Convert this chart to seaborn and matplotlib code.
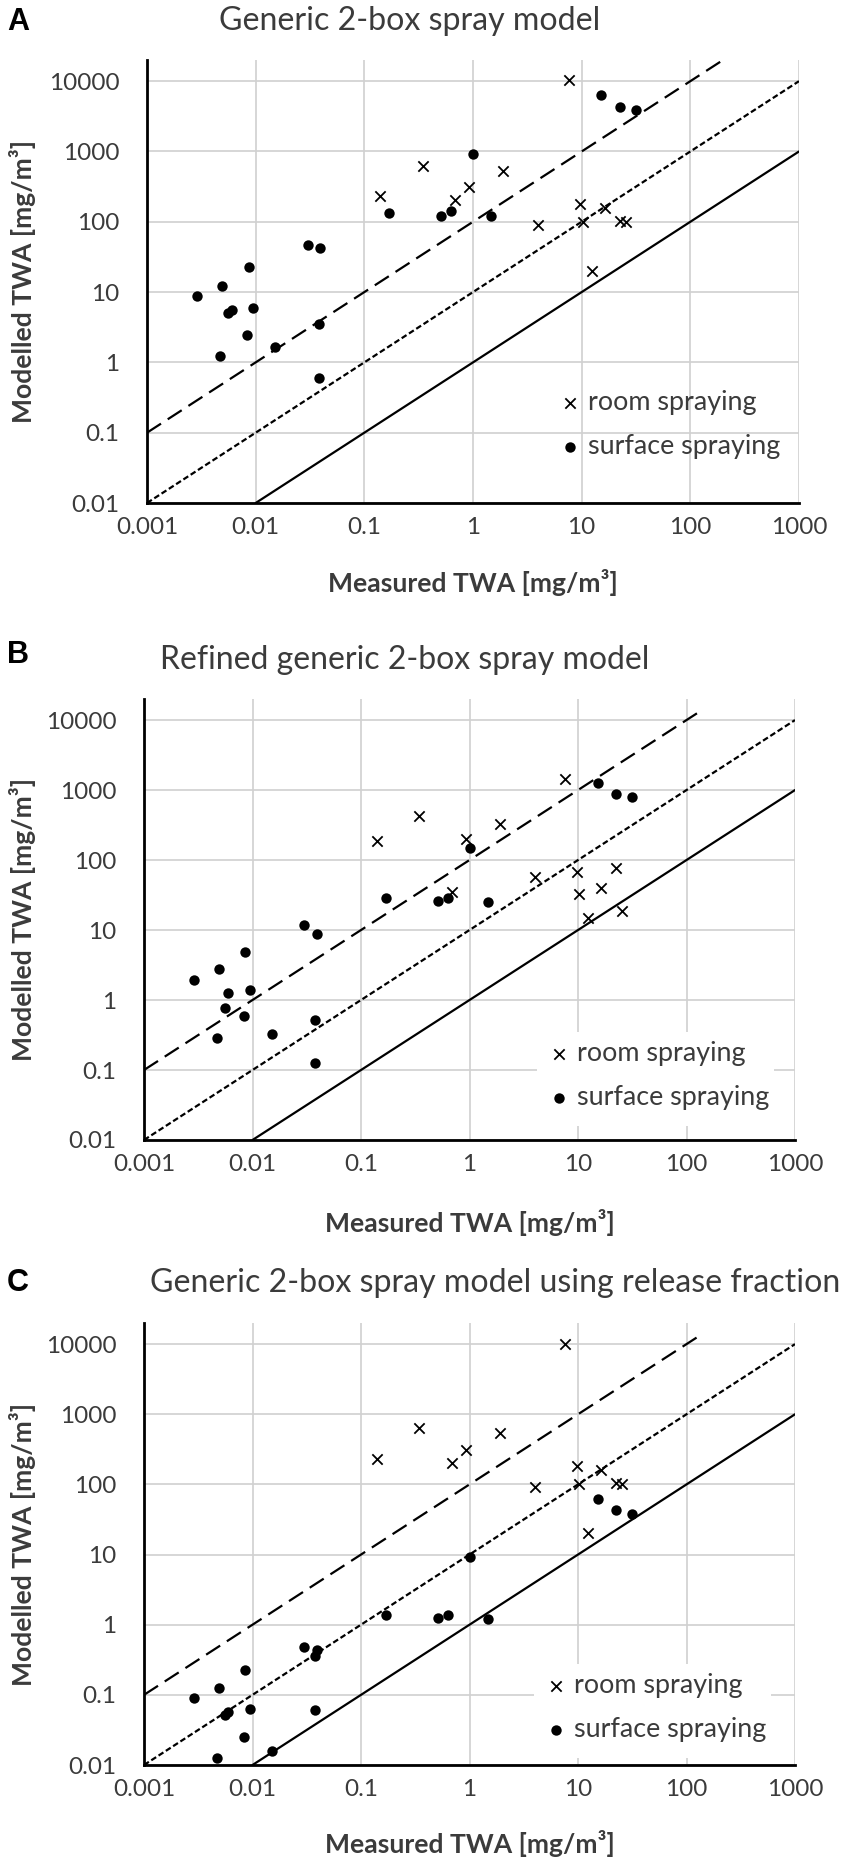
import matplotlib
matplotlib.use('Agg')
import matplotlib.pyplot as plt
from matplotlib.patches import Rectangle
import seaborn as sns

# Measured TWA [mg/m3] (same for all three panels)
room_measured = [7.6, 0.14, 0.345, 0.69, 0.92, 1.9, 4.0, 9.7, 10.2, 16.3, 22.5, 25.5, 12.4]
surface_measured = [15.2, 22.5, 31.5, 1.0, 0.17, 0.51, 0.63, 1.47, 0.030, 0.039, 0.0086,
                    0.0049, 0.0029, 0.0056, 0.006, 0.0095, 0.0083, 0.038, 0.0152, 0.0047, 0.038]

# Modelled TWA [mg/m3]
room_modelled_a = [10400, 230, 612, 207, 314, 526, 90, 178, 100, 155, 102, 99, 19.7]
surface_modelled_a = [6280, 4300, 3850, 916, 135, 122, 142, 119, 47, 42.5, 22.4,
                      12.1, 8.8, 5.0, 5.6, 6.0, 2.47, 3.47, 1.63, 1.25, 0.60]

room_modelled_b = [1459, 188, 430, 35.2, 202, 326, 56.8, 68.6, 33, 40.4, 75.8, 18.8, 15.0]
surface_modelled_b = [1270, 882, 787, 151, 28.8, 26, 28.8, 25.4, 11.8, 8.9, 4.88,
                      2.77, 1.95, 0.77, 1.25, 1.37, 0.59, 0.52, 0.33, 0.288, 0.124]

room_modelled_c = [10000, 228, 628, 205, 314, 549, 91, 182, 100, 159, 104, 100, 20.3]
surface_modelled_c = [62.8, 42.7, 38.4, 9.36, 1.39, 1.24, 1.39, 1.2, 0.481, 0.432, 0.228,
                      0.125, 0.091, 0.052, 0.0564, 0.062, 0.025, 0.354, 0.0157, 0.0126, 0.061]

titles = ['Generic 2-box spray model',
          'Refined generic 2-box spray model',
          'Generic 2-box spray model using release fraction']
letters = ['A', 'B', 'C']
xlabel = 'Measured TWA [mg/m³]'
ylabel = 'Modelled TWA [mg/m³]'

x_ticks = [0.001, 0.01, 0.1, 1, 10, 100, 1000]
x_ticklabels = ['0.001', '0.01', '0.1', '1', '10', '100', '1000']
y_ticks = [0.01, 0.1, 1, 10, 100, 1000, 10000]
y_ticklabels = ['0.01', '0.1', '1', '10', '100', '1000', '10000']

# reference lines y = factor * x
ref_factor = [1, 10, 100]
ref_start = [0.01, 0.001, 0.001]
ref_end_dashed = [190, 140, 140]

room = [room_modelled_a, room_modelled_b, room_modelled_c]
surface = [surface_modelled_a, surface_modelled_b, surface_modelled_c]

sns.set_style('white')
plt.rcParams['font.family'] = ['Lato', 'DejaVu Sans']

W, H = 851, 1867
fig = plt.figure(figsize=(W / 100, H / 100), dpi=100)
renderer = fig.canvas.get_renderer()


def fit_size(text, target_px, weight='normal'):
    # font size (pt) that makes the text about target_px wide
    t = fig.text(0, 0, text, fontsize=10, fontweight=weight)
    w = t.get_window_extent(renderer).width
    t.remove()
    return 10 * target_px / w


tick_fs = fit_size('10000', 70)
legend_fs = fit_size('surface spraying', 192)
label_fs = fit_size(xlabel, 290, 'bold')
title_fs = [fit_size(titles[0], 382), fit_size(titles[1], 491), fit_size(titles[2], 690)]

# axes boxes in pixels: left, right, top, bottom
boxes = [(147, 799, 60, 503), (144, 795, 699, 1140), (144, 795, 1323, 1765)]
title_pos = [(410, 21), (405, 660), (495, 1283)]
letter_pos = [(18, 22), (18, 655), (18, 1283)]
xlabel_y = [583, 1222, 1843]
legend_corner = [(548, 381), (537, 1032), (534, 1664)]   # top-left of legend box, px
legend_box = [None, (237, 94), (237, 94)]                 # white background size, px

txt = '#3b3b3b'
grid_c = '#d0d0d0'

for i in range(3):
    l, r, t, b = boxes[i]
    aw, ah = r - l, b - t
    ax = fig.add_axes([l / W, 1 - b / H, aw / W, ah / H])
    ax.set_xscale('log')
    ax.set_yscale('log')
    ax.set_xlim(0.001, 1000)
    ax.set_ylim(0.01, 20000)

    ends = [1000, 1000, ref_end_dashed[i]]
    styles = ['-', (0, (2.6, 1.3)), (0, (7.5, 3.6))]
    for f, s, e, ls in zip(ref_factor, ref_start, ends, styles):
        ax.plot([s, e], [f * s, f * e], color='black', lw=1.6, linestyle=ls, zorder=2)

    sns.scatterplot(x=room_measured, y=room[i], marker='x', color='black', s=55,
                    linewidth=1.3, label='room spraying', ax=ax, zorder=3)
    sns.scatterplot(x=surface_measured, y=surface[i], marker='o', color='black', s=56,
                    edgecolor='black', linewidth=0, label='surface spraying', ax=ax, zorder=3)

    ax.set_xticks(x_ticks)
    ax.set_xticklabels(x_ticklabels)
    ax.set_yticks(y_ticks)
    ax.set_yticklabels(y_ticklabels)
    ax.minorticks_off()
    ax.tick_params(axis='both', length=0, labelsize=tick_fs, labelcolor=txt)
    ax.tick_params(axis='x', pad=10)
    ax.tick_params(axis='y', pad=20)
    ax.grid(True, color=grid_c, lw=1.2, zorder=0)
    ax.set_axisbelow(True)
    for side in ['top', 'right']:
        ax.spines[side].set_visible(False)
    for side in ['left', 'bottom']:
        ax.spines[side].set_color('black')
        ax.spines[side].set_linewidth(2.0)
        ax.spines[side].set_zorder(4)

    cx, cy = legend_corner[i]
    anchor = ((cx - l) / aw, (b - cy) / ah)
    if legend_box[i] is not None:
        bw, bh = legend_box[i]
        ax.add_patch(Rectangle((anchor[0], anchor[1] - bh / ah), bw / aw, bh / ah,
                               transform=ax.transAxes, facecolor='white',
                               edgecolor='none', zorder=1))
    leg = ax.legend(loc='upper left', bbox_to_anchor=anchor, borderaxespad=0,
                    frameon=False, handlelength=0.95, handletextpad=0.2,
                    borderpad=0.34, labelspacing=0.7, fontsize=legend_fs)
    for tx in leg.get_texts():
        tx.set_color(txt)

    fig.text(title_pos[i][0] / W, 1 - title_pos[i][1] / H, titles[i], ha='center',
             va='center', fontsize=title_fs[i], color=txt)
    fig.text(letter_pos[i][0] / W, 1 - letter_pos[i][1] / H, letters[i], ha='center',
             va='center', fontsize=22, fontweight='bold', color='black',
             family=['Liberation Sans', 'DejaVu Sans'])
    fig.text((l + r) / 2 / W, 1 - xlabel_y[i] / H, xlabel, ha='center',
             va='center', fontsize=label_fs, fontweight='bold', color=txt)
    fig.text(23 / W, 1 - (t + b) / 2 / H, ylabel, ha='center',
             va='center', rotation=90, fontsize=label_fs, fontweight='bold', color=txt)

fig.savefig('out.png', dpi=100)
